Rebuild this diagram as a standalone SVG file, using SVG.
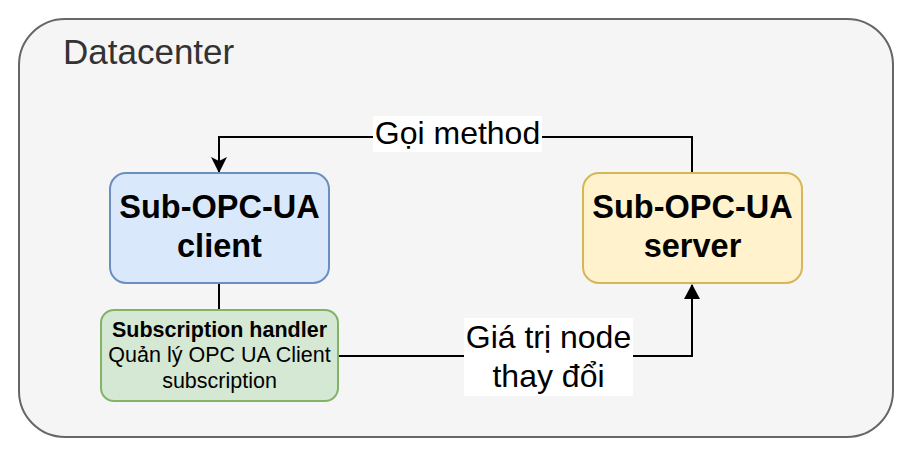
<svg xmlns="http://www.w3.org/2000/svg" width="912" height="457" viewBox="0 0 912 457">
<style>
text{font-family:"Liberation Sans",Arial,Helvetica,sans-serif;fill:#000}
.title{font-size:32.5px;font-weight:bold;text-anchor:middle}
.lbl{font-size:32px;text-anchor:middle}
.sm{font-size:21.5px;text-anchor:middle}
.conn{fill:none;stroke:#000;stroke-width:2}
</style>
<defs>
<marker id="classic" viewBox="0 0 16 16" refX="15" refY="8" markerWidth="16" markerHeight="16" markerUnits="userSpaceOnUse" orient="auto">
<path d="M0,0 L16,8 L0,16 L4,8 z" fill="#000"/>
</marker>
<marker id="block" viewBox="0 0 15 16" refX="14" refY="8" markerWidth="15" markerHeight="16" markerUnits="userSpaceOnUse" orient="auto">
<path d="M0,0 L15,8 L0,16 z" fill="#000"/>
</marker>
</defs>
<g id="datacenter">
<rect x="19" y="19" width="874" height="418" rx="46" ry="46" fill="#f5f5f5" stroke="#666" stroke-width="2"/>
<text x="63" y="64" style="font-size:35px;fill:#333">Datacenter</text>
</g>
<g id="connectors">
<path class="conn" d="M692,173 V137 H219 V172" marker-end="url(#classic)"/>
<path class="conn" d="M219,283 V310"/>
<path class="conn" d="M338,356 H692 V285" marker-end="url(#block)"/>
<rect x="373" y="116" width="169" height="36" fill="#fff"/>
<text class="lbl" x="457.5" y="144">Gọi method</text>
<rect x="464" y="318" width="169" height="78" fill="#fff"/>
<text class="lbl" x="548.5" y="348">Giá trị node</text>
<text class="lbl" x="548.5" y="387">thay đổi</text>
</g>
<g id="client">
<rect x="110" y="173" width="219" height="110" rx="16" ry="16" fill="#dae8fc" stroke="#6c8ebf" stroke-width="2"/>
<text class="title" x="219.5" y="218">Sub-OPC-UA</text>
<text class="title" x="219.5" y="257">client</text>
</g>
<g id="handler">
<rect x="101" y="310" width="237" height="91" rx="13" ry="13" fill="#d5e8d4" stroke="#82b366" stroke-width="2"/>
<text class="sm" x="219.5" y="337" font-weight="bold">Subscription handler</text>
<text class="sm" x="219.5" y="362">Quản lý OPC UA Client</text>
<text class="sm" x="219.5" y="388">subscription</text>
</g>
<g id="server">
<rect x="583" y="173" width="219" height="110" rx="16" ry="16" fill="#fff2cc" stroke="#d6b656" stroke-width="2"/>
<text class="title" x="692.5" y="218">Sub-OPC-UA</text>
<text class="title" x="692.5" y="257">server</text>
</g>
</svg>
